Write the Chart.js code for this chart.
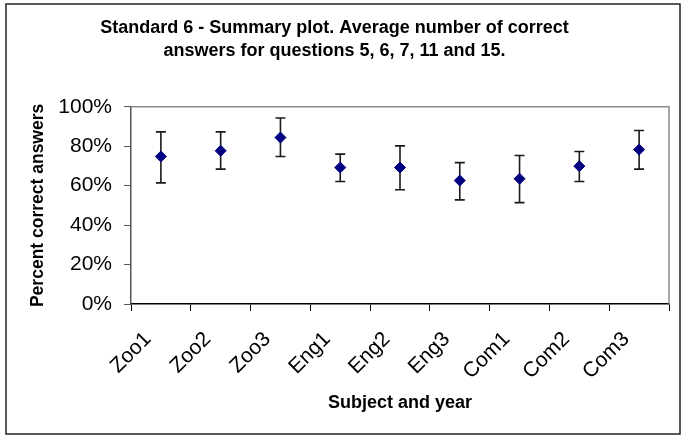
<!DOCTYPE html>
<html>
<head>
<meta charset="utf-8">
<script src="https://cdn.jsdelivr.net/npm/chart.js@4"></script>
<style>
html, body { margin: 0; padding: 0; background: #fff; }
#wrap { width: 686px; height: 440px; }
</style>
</head>
<body>
<div id="wrap"><canvas id="chart-standard6"></canvas></div>
<script>
// values (percent)
const categories = ['Zoo1', 'Zoo2', 'Zoo3', 'Eng1', 'Eng2', 'Eng3', 'Com1', 'Com2', 'Com3'];
const average = [74.8, 77.7, 84.4, 69.2, 69.2, 62.6, 63.5, 69.9, 78.3];
const upper = [87.3, 87.3, 94.3, 76.0, 80.2, 71.7, 75.3, 77.3, 88.0];
const lower = [61.4, 68.4, 74.8, 62.1, 57.9, 52.8, 51.4, 62.1, 68.4];
const yTicks = [0, 20, 40, 60, 80, 100];

const FONT = '"Liberation Sans", Arial, sans-serif';

// white background + outer frame, grey top/right edge of the plot
const frame = {
    id: 'frame',
    beforeDraw(chart) {
        const c = chart.ctx;
        c.save();
        c.fillStyle = '#fff';
        c.fillRect(0, 0, chart.width, chart.height);
        c.strokeStyle = '#222';
        c.lineWidth = 1.5;
        c.strokeRect(6, 4, 674, 430);
        c.restore();
    },
    afterDraw(chart) {
        const a = chart.chartArea;
        const c = chart.ctx;
        c.save();
        c.strokeStyle = '#8c8c8c';
        c.lineWidth = 1.5;
        c.beginPath();
        c.moveTo(a.left, a.top);
        c.lineTo(a.right, a.top);
        c.lineTo(a.right, a.bottom);
        c.stroke();
        c.restore();
    }
};

// error bars from the lower/upper arrays
const errorBars = {
    id: 'errorBars',
    beforeDatasetsDraw(chart) {
        const x = chart.scales.x, y = chart.scales.y;
        const c = chart.ctx;
        c.save();
        c.strokeStyle = '#1a1a1a';
        c.lineWidth = 1.6;
        categories.forEach((cat, i) => {
            const px = x.getPixelForValue(i);
            const top = y.getPixelForValue(upper[i]);
            const bot = y.getPixelForValue(lower[i]);
            c.beginPath();
            c.moveTo(px, top); c.lineTo(px, bot);
            c.moveTo(px - 5, top); c.lineTo(px + 5, top);
            c.moveTo(px - 5, bot); c.lineTo(px + 5, bot);
            c.stroke();
        });
        c.restore();
    }
};

const ctx = document.getElementById('chart-standard6').getContext('2d');
new Chart(ctx, {
    type: 'line',
    data: {
        labels: categories,
        datasets: [{
            label: 'Average',
            data: average,
            showLine: false,
            pointStyle: 'rectRot',
            pointRadius: 5.5,
            backgroundColor: '#000080',
            borderColor: '#000080',
            borderWidth: 1
        }]
    },
    options: {
        responsive: true,
        maintainAspectRatio: false,
        animation: false,
        layout: { padding: { left: 0, right: 17, top: 0, bottom: 0 } },
        plugins: {
            legend: { display: false },
            tooltip: { enabled: false },
            title: {
                display: true,
                text: ['Standard 6 - Summary plot. Average number of correct',
                       'answers for questions 5, 6, 7, 11 and 15.'],
                color: '#000',
                font: { family: FONT, size: 18, weight: 'bold', lineHeight: 1.3 },
                padding: { top: 16, bottom: 44 }
            }
        },
        scales: {
            x: {
                offset: true,
                grid: { offset: true, drawOnChartArea: false, tickLength: 7, color: '#000' },
                border: { color: '#000', width: 1.5 },
                ticks: {
                    color: '#000',
                    font: { family: FONT, size: 21 },
                    minRotation: 45,
                    maxRotation: 45,
                    padding: 16,
                    labelOffset: -13,
                    autoSkip: false
                },
                title: {
                    display: true,
                    text: 'Subject and year',
                    color: '#000',
                    font: { family: FONT, size: 18, weight: 'bold' },
                    padding: { top: 0, bottom: 26 }
                },
                afterFit(scale) { scale.height = 136; }
            },
            y: {
                min: 0,
                max: 100,
                afterBuildTicks(scale) { scale.ticks = yTicks.map(v => ({ value: v })); },
                grid: { drawOnChartArea: false, tickLength: 7, color: '#555' },
                border: { color: '#555', width: 1.5 },
                ticks: {
                    color: '#000',
                    font: { family: FONT, size: 21 },
                    padding: 12,
                    callback: v => v + '%'
                },
                title: {
                    display: true,
                    text: 'Percent correct answers',
                    color: '#000',
                    font: { family: FONT, size: 17.5, weight: 'bold' },
                    padding: { top: 28, bottom: 0 }
                },
                afterFit(scale) { scale.width = 131; }
            }
        }
    },
    plugins: [frame, errorBars]
});
</script>
</body>
</html>
